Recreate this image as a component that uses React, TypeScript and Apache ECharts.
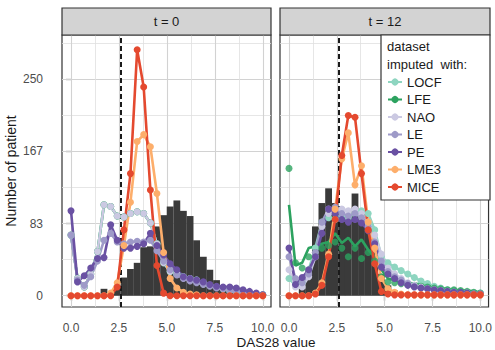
import React, { useEffect, useRef } from "react";
import * as echarts from "echarts";

// DAS28 bin centres shared by the histogram and every frequency polygon
const dasBins = [
  0.0, 0.34, 0.69, 1.03, 1.38, 1.72, 2.07, 2.41, 2.76, 3.1, 3.45, 3.79, 4.14, 4.48, 4.83,
  5.17, 5.52, 5.86, 6.21, 6.55, 6.9, 7.24, 7.59, 7.93, 8.28, 8.62, 8.97, 9.31, 9.66, 10.0,
];

const panelTitles = ["t = 0", "t = 12"];
const methods = ["LOCF", "LFE", "NAO", "LE", "PE", "LME3", "MICE"];
const methodColors = ["#8ed5c0", "#2ca25f", "#cbc9e2", "#9e9ac8", "#6a51a3", "#fdae6b", "#e4492f"];

const xTicks = [0, 2.5, 5, 7.5, 10];
const xMinor = [1.25, 3.75, 6.25, 8.75];
const yTicks = [0, 250 / 3, 500 / 3, 250];
const yMinor = [125 / 3, 125, 625 / 3, 875 / 3];
const remissionCut = 2.6;

// observed (complete-case) distribution
const histT0 = [0, 0, 0, 0, 0, 8, 3, 12, 21, 31, 38, 56, 57, 80, 93, 103, 110, 98, 92, 64, 45, 30, 18, 10, 6, 3, 2, 1, 0, 0];
const histT12 = [0, 2, 8, 30, 80, 107, 124, 107, 88, 92, 118, 97, 80, 50, 25, 12, 6, 3, 2, 1, 0, 0, 0, 0, 0, 0, 0, 0, 0, 0];

// imputed datasets, t = 0
const naoT0 = [70, 20, 10, 25, 51, 105, 103, 92, 91, 95, 97, 95, 84, 60, 38, 28, 25, 22, 20, 18, 15, 12, 10, 8, 6, 5, 4, 3, 2, 1];
const locfT0 = [70, 20, 10, 25, 51, 105, 103, 92, 91, 95, 97, 95, 84, 60, 38, 28, 25, 22, 20, 18, 15, 12, 10, 8, 6, 5, 4, 3, 2, 1];
const lfeT0 = [70, 20, 10, 25, 51, 105, 103, 92, 91, 95, 97, 95, 84, 60, 38, 28, 25, 22, 20, 18, 15, 12, 10, 8, 6, 5, 4, 3, 2, 1];
const leT0 = [70, 18, 12, 22, 40, 64, 72, 62, 60, 62, 63, 62, 64, 52, 40, 30, 24, 20, 17, 15, 13, 11, 9, 8, 6, 5, 4, 3, 2, 1];
const peT0 = [98, 16, 23, 32, 43, 44, 82, 64, 55, 55, 57, 60, 72, 58, 47, 37, 30, 22, 20, 18, 16, 13, 11, 10, 10, 9, 7, 5, 3, 1];
const lme3T0 = [0, 0, 0, 0, 0, 0, 3, 15, 58, 108, 178, 186, 172, 118, 50, 20, 9, 4, 2, 1, 0, 0, 0, 0, 0, 0, 0, 0, 0, 0];
const miceT0 = [0, 0, 0, 0, 0, 0, 0, 10, 76, 141, 284, 241, 122, 35, 3, 0, 0, 0, 0, 0, 0, 0, 0, 0, 0, 0, 0, 0, 0, 0];

// imputed datasets, t = 12
const locfT12 = [20, 12, 15, 30, 55, 85, 90, 88, 92, 90, 95, 98, 95, 76, 45, 38, 33, 29, 25, 21, 17, 14, 11, 9, 7, 6, 5, 4, 3, 3];
const lfeLineT12 = [105, 35, 38, 55, 57, 60, 62, 72, 61, 67, 57, 65, 53, 45, 30, 20, 18, 16, 15, 14, 13, 12, 10, 9, 8, 7, 6, 6, 5, 4];
const lfePointsT12 = [147, 38, 32, 45, 50, 55, 58, 62, 55, 45, 55, 43, 50, 40, 22, 16, 15, 14, 13, 12, 11, 10, 9, 8, 7, 7, 6, 5, 4, 3];
const naoT12 = [30, 10, 10, 22, 45, 80, 95, 100, 100, 98, 100, 95, 85, 70, 48, 32, 25, 20, 15, 12, 10, 8, 7, 6, 5, 4, 3, 3, 2, 2];
const leT12 = [45, 20, 15, 25, 50, 85, 100, 102, 95, 92, 95, 90, 80, 62, 40, 28, 22, 18, 14, 11, 9, 8, 6, 5, 4, 4, 3, 3, 2, 2];
const peT12 = [55, 13, 21, 30, 45, 72, 100, 95, 88, 85, 88, 84, 75, 60, 33, 25, 20, 15, 12, 10, 9, 8, 7, 6, 5, 4, 4, 3, 2, 2];
const lme3T12 = [0, 0, 0, 0, 3, 15, 48, 100, 158, 188, 128, 150, 85, 55, 20, 8, 4, 2, 1, 1, 1, 1, 1, 1, 1, 1, 1, 1, 1, 1];
const miceT12 = [0, 0, 0, 0, 2, 12, 45, 88, 162, 208, 206, 141, 76, 37, 5, 2, 1, 1, 1, 1, 1, 1, 1, 1, 1, 1, 1, 1, 1, 1];

const FONT = "'Liberation Sans', Arial, Helvetica, sans-serif";
const LINE_W = 2.6;
const DOT = 7;

const toPairs = (vals: number[]) => dasBins.map((x, i) => [x, vals[i]]);

const gridRects = [
  { left: 62, width: 209 },
  { left: 280, width: 210 },
];

function buildOption() {
  const series: any[] = [];
  const panelData = [
    {
      hist: histT0,
      lines: [locfT0, lfeT0, naoT0, leT0, peT0, lme3T0, miceT0],
      lfeLine: null as number[] | null,
    },
    {
      hist: histT12,
      lines: [locfT12, lfePointsT12, naoT12, leT12, peT12, lme3T12, miceT12],
      lfeLine: lfeLineT12,
    },
  ];

  panelData.forEach((panel, p) => {
    // panel grid lines
    const gridLines: any[] = [];
    yTicks.forEach((v) => gridLines.push({ yAxis: v, lineStyle: { color: "#d2d2d2", width: 1.1 } }));
    yMinor.forEach((v) => gridLines.push({ yAxis: v, lineStyle: { color: "#e0e0e0", width: 0.8 } }));
    xTicks.forEach((v) => gridLines.push({ xAxis: v, lineStyle: { color: "#d2d2d2", width: 1.1 } }));
    xMinor.forEach((v) => gridLines.push({ xAxis: v, lineStyle: { color: "#e0e0e0", width: 0.8 } }));
    series.push({
      type: "line",
      name: "grid" + p,
      xAxisIndex: p,
      yAxisIndex: p,
      data: [],
      z: 1,
      silent: true,
      markLine: {
        z: 1,
        silent: true,
        symbol: ["none", "none"],
        label: { show: false },
        lineStyle: { type: "solid" },
        emphasis: { disabled: true },
        data: gridLines,
      },
    });

    // histogram of observed values + remission threshold
    series.push({
      type: "bar",
      name: "observed" + p,
      xAxisIndex: p,
      yAxisIndex: p,
      data: toPairs(panel.hist),
      barWidth: 6.8,
      itemStyle: { color: "#3a3a3a" },
      z: 2,
      silent: true,
      markLine: {
        z: 3,
        silent: true,
        symbol: ["none", "none"],
        label: { show: false },
        lineStyle: { type: [5, 3], color: "#1a1a1a", width: 2 },
        emphasis: { disabled: true },
        data: [{ xAxis: remissionCut }],
      },
    });

    // frequency polygons of the imputed datasets
    methods.forEach((m, k) => {
      const color = methodColors[k];
      if (m === "LFE" && panel.lfeLine) {
        series.push({
          type: "line",
          name: m,
          xAxisIndex: p,
          yAxisIndex: p,
          data: toPairs(panel.lfeLine),
          showSymbol: false,
          lineStyle: { width: LINE_W, color },
          itemStyle: { color },
          z: 4,
          silent: true,
        });
        series.push({
          type: "scatter",
          name: m,
          xAxisIndex: p,
          yAxisIndex: p,
          data: toPairs(panel.lines[k]),
          symbol: "circle",
          symbolSize: DOT,
          itemStyle: { color },
          z: 4,
          silent: true,
        });
        return;
      }
      series.push({
        type: "line",
        name: m,
        xAxisIndex: p,
        yAxisIndex: p,
        data: toPairs(panel.lines[k]),
        symbol: "circle",
        symbolSize: DOT,
        showSymbol: true,
        lineStyle: { width: LINE_W, color },
        itemStyle: { color },
        z: 4,
        silent: true,
      });
    });
  });

  const graphic: any[] = [];
  gridRects.forEach((g, p) => {
    graphic.push({
      type: "rect",
      shape: { x: g.left, y: 8, width: g.width, height: 27 },
      style: { fill: "#d3d3d3", stroke: "#333", lineWidth: 1.2 },
      z: 10,
    });
    graphic.push({
      type: "text",
      x: g.left + g.width / 2,
      y: 21.5,
      style: {
        text: panelTitles[p],
        fontSize: 13,
        fontFamily: FONT,
        fill: "#1a1a1a",
        align: "center",
        verticalAlign: "middle",
      },
      z: 11,
    });
  });
  // legend frame and title
  graphic.push({
    type: "rect",
    shape: { x: 381, y: 35, width: 109, height: 165 },
    style: { fill: "#ffffff", stroke: "#333", lineWidth: 1.2 },
    z: 50,
  });
  graphic.push({
    type: "text",
    x: 387,
    y: 37,
    style: {
      text: "dataset\nimputed  with:",
      fontSize: 13,
      lineHeight: 18,
      fontFamily: FONT,
      fill: "#1a1a1a",
      align: "left",
      verticalAlign: "top",
    },
    z: 51,
  });
  // axis titles
  graphic.push({
    type: "text",
    x: 276,
    y: 335,
    style: {
      text: "DAS28 value",
      fontSize: 13.5,
      fontFamily: FONT,
      fill: "#1a1a1a",
      align: "center",
      verticalAlign: "top",
    },
    z: 20,
  });
  graphic.push({
    type: "text",
    x: 11,
    y: 171,
    rotation: Math.PI / 2,
    style: {
      text: "Number of patient",
      fontSize: 14,
      fontFamily: FONT,
      fill: "#1a1a1a",
      align: "center",
      verticalAlign: "middle",
    },
    z: 20,
  });

  return {
    animation: false,
    textStyle: { fontFamily: FONT },
    grid: gridRects.map((g) => ({
      left: g.left,
      top: 35,
      width: g.width,
      height: 272,
      show: true,
      backgroundColor: "#ffffff",
      borderColor: "#333",
      borderWidth: 1.2,
      containLabel: false,
    })),
    xAxis: gridRects.map((_, p) => ({
      type: "value",
      gridIndex: p,
      min: -0.47,
      max: 10.43,
      splitLine: { show: false },
      axisLine: { show: false },
      axisTick: {
        show: true,
        length: 5,
        customValues: xTicks,
        lineStyle: { color: "#333", width: 1.2 },
      },
      axisLabel: {
        customValues: xTicks,
        formatter: (v: number) => v.toFixed(1),
        color: "#4d4d4d",
        fontSize: 12,
        margin: 15,
        fontFamily: FONT,
      },
    })),
    yAxis: gridRects.map((_, p) => ({
      type: "value",
      gridIndex: p,
      min: -13,
      max: 301,
      splitLine: { show: false },
      axisLine: { show: false },
      axisTick: {
        show: p === 0,
        length: 5,
        customValues: yTicks,
        lineStyle: { color: "#333", width: 1.2 },
      },
      axisLabel: {
        show: p === 0,
        customValues: yTicks,
        formatter: (v: number) => String(Math.round(v)),
        color: "#4d4d4d",
        fontSize: 12,
        margin: 19,
        fontFamily: FONT,
      },
    })),
    legend: {
      data: methods,
      orient: "vertical",
      left: 387,
      top: 75,
      padding: 0,
      itemWidth: 14,
      itemHeight: 9,
      itemGap: 3.5,
      selectedMode: false,
      z: 100,
      textStyle: { fontSize: 13, lineHeight: 14, color: "#1a1a1a", fontFamily: FONT },
    },
    graphic,
    series,
  };
}

export default function App() {
  const ref = useRef<HTMLDivElement>(null);
  useEffect(() => {
    if (!ref.current) return;
    const chart = echarts.init(ref.current, undefined, { renderer: "svg" });
    chart.setOption(buildOption() as any);
    return () => chart.dispose();
  }, []);
  return (
    <div
      ref={ref}
      style={{ position: "fixed", left: 0, top: 0, width: 495, height: 350, background: "#fff" }}
    />
  );
}
